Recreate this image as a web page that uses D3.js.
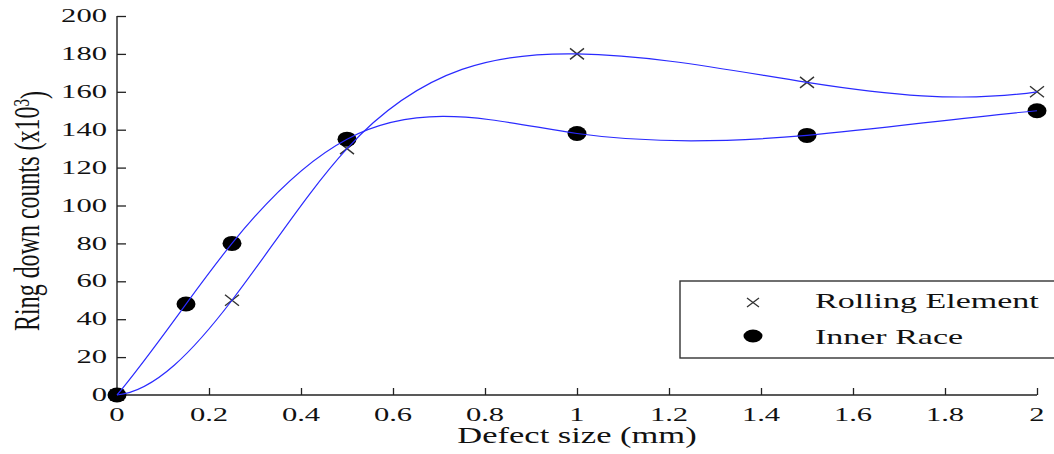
<!DOCTYPE html>
<html>
<head>
<meta charset="utf-8">
<script src="https://cdn.jsdelivr.net/npm/d3@7"></script>
<style>
  html, body { margin: 0; padding: 0; background: #fff; }
  svg { display: block; }
  text { font-family: "Liberation Serif", "DejaVu Serif", serif; fill: #111; }
</style>
</head>
<body>
<svg id="chart" width="1054" height="454"></svg>
<script>
// ---- data ----
const rollingX = [0, 0.25, 0.5, 1, 1.5, 2];
const rollingY = [0, 50, 130, 180, 165, 160];
const innerX = [0, 0.15, 0.25, 0.5, 1, 1.5, 2];
const innerY = [0, 48, 80, 135, 138, 137, 150];
const xTicks = [0, 0.2, 0.4, 0.6, 0.8, 1, 1.2, 1.4, 1.6, 1.8, 2];
const yTicks = [0, 20, 40, 60, 80, 100, 120, 140, 160, 180, 200];
const seriesNames = ["Rolling Element", "Inner Race"];
const xLabel = "Defect size (mm)";
const yLabel = "Ring down counts (x10";
const yLabelSup = "3";

// ---- layout ----
const padL = 117, padR = 1037, padT = 16, padB = 395;
const STRETCH = 1.7;

const svg = d3.select("#chart");
const x = d3.scaleLinear().domain([0, 2]).range([padL, padR]);
const y = d3.scaleLinear().domain([0, 200]).range([padB, padT]);

// not-a-knot cubic spline curve (y as a function of x), emitted as exact Bezier segments
function splineCurve(context) {
  let pts;
  return {
    areaStart() {}, areaEnd() {},
    lineStart() { pts = []; },
    point(px, py) { pts.push([+px, +py]); },
    lineEnd() {
      const n = pts.length;
      if (n === 0) return;
      const X = pts.map(p => p[0]), Y = pts.map(p => p[1]);
      const h = [];
      for (let i = 0; i < n - 1; i++) h.push(X[i + 1] - X[i]);
      const A = Array.from({length: n}, () => new Array(n).fill(0));
      const b = new Array(n).fill(0);
      if (n >= 4) {
        A[0][0] = h[1]; A[0][1] = -(h[0] + h[1]); A[0][2] = h[0];
        A[n - 1][n - 3] = h[n - 2]; A[n - 1][n - 2] = -(h[n - 3] + h[n - 2]); A[n - 1][n - 1] = h[n - 3];
      } else {
        A[0][0] = 1; A[n - 1][n - 1] = 1;
      }
      for (let i = 1; i < n - 1; i++) {
        A[i][i - 1] = h[i - 1];
        A[i][i] = 2 * (h[i - 1] + h[i]);
        A[i][i + 1] = h[i];
        b[i] = 6 * ((Y[i + 1] - Y[i]) / h[i] - (Y[i] - Y[i - 1]) / h[i - 1]);
      }
      for (let c = 0; c < n; c++) {
        let piv = c;
        for (let r = c + 1; r < n; r++) if (Math.abs(A[r][c]) > Math.abs(A[piv][c])) piv = r;
        [A[c], A[piv]] = [A[piv], A[c]]; [b[c], b[piv]] = [b[piv], b[c]];
        for (let r = c + 1; r < n; r++) {
          const f = A[r][c] / A[c][c];
          for (let k = c; k < n; k++) A[r][k] -= f * A[c][k];
          b[r] -= f * b[c];
        }
      }
      const M = new Array(n).fill(0);
      for (let r = n - 1; r >= 0; r--) {
        let s = b[r];
        for (let k = r + 1; k < n; k++) s -= A[r][k] * M[k];
        M[r] = s / A[r][r];
      }
      context.moveTo(X[0], Y[0]);
      for (let i = 0; i < n - 1; i++) {
        const d = (Y[i + 1] - Y[i]) / h[i];
        const m0 = d - h[i] * (2 * M[i] + M[i + 1]) / 6;
        const m1 = d + h[i] * (M[i] + 2 * M[i + 1]) / 6;
        context.bezierCurveTo(X[i] + h[i] / 3, Y[i] + m0 * h[i] / 3,
                              X[i + 1] - h[i] / 3, Y[i + 1] - m1 * h[i] / 3,
                              X[i + 1], Y[i + 1]);
      }
    }
  };
}

// ---- axes ----
const axisColor = "#222";
const yAxis = d3.axisRight(y).tickValues(yTicks).tickSize(9).tickFormat("");
svg.append("g").attr("transform", `translate(${padL},0)`).call(yAxis)
  .call(g => g.select(".domain").attr("stroke", axisColor).attr("stroke-width", 1.4).attr("d", `M0,${padT}V${padB}`))
  .call(g => g.selectAll(".tick line").attr("stroke", axisColor).attr("stroke-width", 1.3));

const xAxis = d3.axisTop(x).tickValues(xTicks).tickSize(7).tickFormat("");
svg.append("g").attr("transform", `translate(0,${padB})`).call(xAxis)
  .call(g => g.select(".domain").attr("stroke", axisColor).attr("stroke-width", 1.4).attr("d", `M${padL},0H${padR}`))
  .call(g => g.selectAll(".tick line").attr("stroke", axisColor).attr("stroke-width", 1.3));

// tick labels
svg.append("g").selectAll("text").data(yTicks).join("text")
  .attr("transform", d => `translate(107,${y(d)}) scale(${STRETCH},1)`)
  .attr("text-anchor", "end").attr("dy", "0.34em")
  .style("font-size", "18px")
  .text(d => d);

svg.append("g").selectAll("text").data(xTicks).join("text")
  .attr("transform", d => `translate(${x(d)},421) scale(${STRETCH},1)`)
  .attr("text-anchor", "middle")
  .style("font-size", "18px")
  .text(d => d);

// axis labels
svg.append("text")
  .attr("transform", `translate(${(padL + padR) / 2},443) scale(1.5,1)`)
  .attr("text-anchor", "middle").style("font-size", "23px")
  .text(xLabel);

const yl = svg.append("text")
  .attr("transform", `translate(39,211) rotate(-90) scale(1,1.5)`)
  .attr("text-anchor", "middle").style("font-size", "24px");
yl.append("tspan").text(yLabel);
yl.append("tspan").attr("dy", "-0.45em").style("font-size", "15px").text(yLabelSup);
yl.append("tspan").attr("dy", "0.45em").text(")");

// ---- markers ----
const crossPath = (cx, cy) => `M${cx - 7},${cy - 5.5}L${cx + 7},${cy + 5.5}M${cx - 7},${cy + 5.5}L${cx + 7},${cy - 5.5}`;
const rolling = rollingX.map((v, i) => [v, rollingY[i]]);
const inner = innerX.map((v, i) => [v, innerY[i]]);

svg.append("g").selectAll("path").data(rolling).join("path")
  .attr("d", d => crossPath(x(d[0]), y(d[1])))
  .attr("stroke", "#333").attr("stroke-width", 1.4).attr("fill", "none");

svg.append("g").selectAll("ellipse").data(inner).join("ellipse")
  .attr("cx", d => x(d[0])).attr("cy", d => y(d[1]))
  .attr("rx", 9.5).attr("ry", 7.5).attr("fill", "#000");

// ---- curves ----
const line = d3.line().x(d => x(d[0])).y(d => y(d[1])).curve(splineCurve);
svg.append("path").datum(rolling).attr("d", line)
  .attr("fill", "none").attr("stroke", "#2a2aff").attr("stroke-width", 1.2);
svg.append("path").datum(inner).attr("d", line)
  .attr("fill", "none").attr("stroke", "#2a2aff").attr("stroke-width", 1.2);

// ---- legend ----
const lg = svg.append("g");
lg.append("rect").attr("x", 680).attr("y", 281).attr("width", 400).attr("height", 77)
  .attr("fill", "#fff").attr("stroke", "#333").attr("stroke-width", 1.4);
lg.append("path").attr("d", `M747,298L759,307M747,307L759,298`)
  .attr("stroke", "#333").attr("stroke-width", 1.3);
lg.append("ellipse").attr("cx", 753).attr("cy", 336).attr("rx", 9.5).attr("ry", 6.5).attr("fill", "#000");
lg.selectAll("text.lbl").data(seriesNames).join("text").attr("class", "lbl")
  .attr("transform", (d, i) => `translate(815,${i === 0 ? 308 : 344}) scale(1.7,1)`)
  .style("font-size", "20px")
  .text(d => d);
</script>
</body>
</html>
